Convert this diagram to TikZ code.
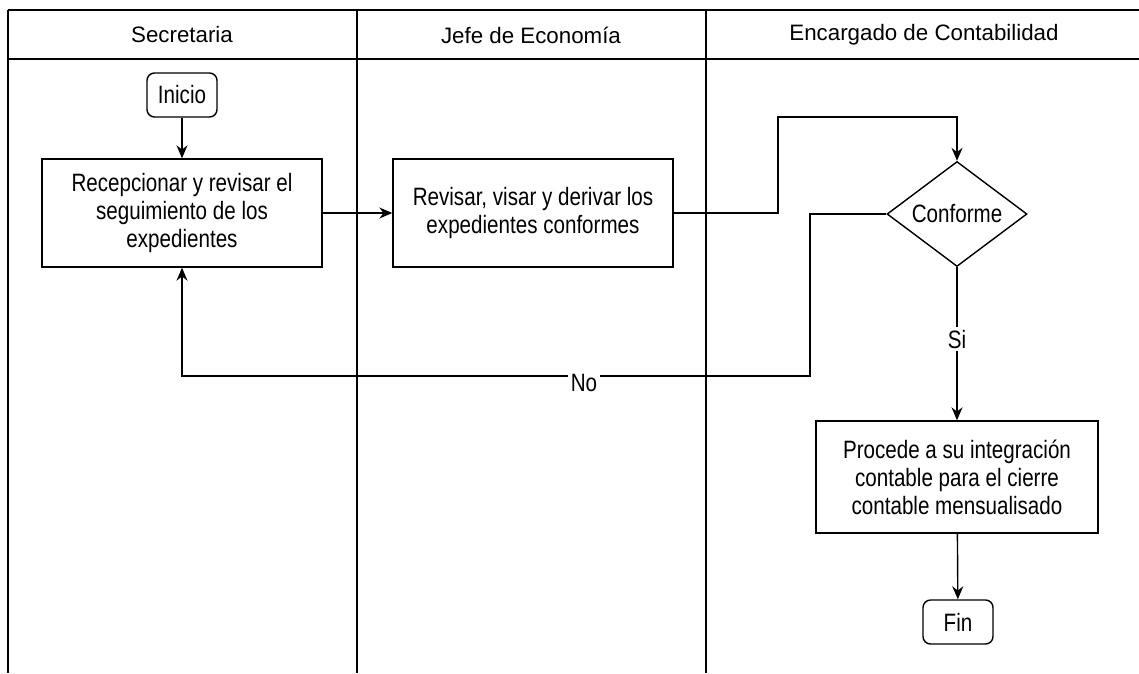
\documentclass[tikz,border=0pt]{standalone}
\usepackage{fontspec}
\setmainfont{Liberation Sans}
\newfontfamily\narrowfont{Liberation Sans}[FakeStretch=0.82]
\usetikzlibrary{arrows.meta,shapes.geometric}

\begin{document}
\begin{tikzpicture}[
  x=0.02cm,y=-0.02cm,
  line width=.8pt,
  lane/.style={font=\fontsize{12.7}{15}\selectfont},
  box/.style={draw,minimum width=5.6cm,minimum height=2.16cm,align=center,font=\narrowfont\fontsize{14.3}{15.9}\selectfont},
  term/.style={draw,rounded corners=1.5mm,minimum width=1.4cm,minimum height=.88cm,font=\narrowfont\fontsize{14.3}{15.9}\selectfont},
  cond/.style={diamond,draw,aspect=1.33,minimum width=2.8cm,minimum height=2.1cm,inner sep=0pt,font=\narrowfont\fontsize{14.3}{15.9}\selectfont},
  lbl/.style={fill=white,inner sep=1.5pt,font=\narrowfont\fontsize{14.3}{15.9}\selectfont},
  arr/.style={-{Stealth[length=2.6mm,width=2.2mm]}}
]
\useasboundingbox (0,0) rectangle (1139,673);
% swimlanes
\draw (8,10) -- (1139,10);
\draw (8,59) -- (1139,59);
\foreach \x in {8,357,706}
  \draw (\x,10) -- (\x,673);
\node[lane] (hsec) at (182,35) {Secretaria};
\node[lane] (hjefe) at (531,35) {Jefe de Economía};
\node[lane] (henc) at (924,35) {Encargado de Contabilidad};

% steps
\node[term] (inicio) at (182,95) {Inicio};
\node[box] (recep) at (182,213) {Recepcionar y revisar el\\seguimiento de los\\expedientes};
\node[box] (revisar) at (533,213) {Revisar, visar y derivar los\\expedientes conformes};
\node[cond] (conforme) at (957,214) {Conforme};
\node[box,minimum width=5.64cm,minimum height=2.24cm] (procede) at (957,477) {Procede a su integración\\contable para el cierre\\contable mensualisado};
\node[term] (fin) at (958,622) {Fin};

\coordinate (k1) at (778,117);
\coordinate (k2) at (810,376);

\draw[arr] (inicio) -- (recep);
\draw[arr] (recep) -- (revisar);
\draw[arr] (revisar.east) -| (k1) -| (conforme.north);
\draw[arr] (conforme.west) -| (k2) -| node[lbl,pos=0.18,yshift=-4pt] {No} (recep.south);
\draw[arr] (conforme.south) -- node[lbl,pos=0.47] {Si} (procede.north);
\draw[arr] (procede) -- (fin);
\end{tikzpicture}
\end{document}
